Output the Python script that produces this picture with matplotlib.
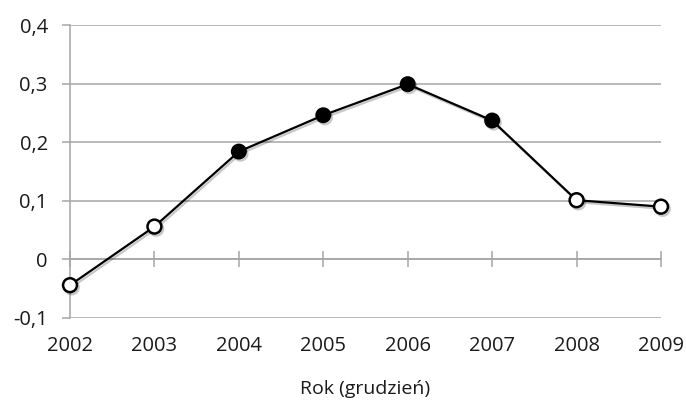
import matplotlib
matplotlib.use("Agg")
import matplotlib.pyplot as plt
import matplotlib.patheffects as pe
import numpy as np

plt.rcParams['font.family'] = ['Open Sans', 'DejaVu Sans']

years = [2002, 2003, 2004, 2005, 2006, 2007, 2008, 2009]
values = [-0.044, 0.056, 0.184, 0.246, 0.299, 0.237, 0.101, 0.090]
filled = [False, False, True, True, True, True, False, False]
yticks = [-0.1, 0, 0.1, 0.2, 0.3, 0.4]
ytick_labels = ['-0,1', '0', '0,1', '0,2', '0,3', '0,4']
xlabel = 'Rok (grudzień)'

grid_col = '#a6a6a6'
text_col = '#1a1a1a'

fig = plt.figure(figsize=(6.86, 4.08), dpi=100)
ax = fig.add_axes([70/686, 1 - 318/408, (661 - 70)/686, (318 - 25)/408])

ax.set_xlim(years[0], years[-1])
ax.set_ylim(-0.1, 0.4)

# horizontal grid
ax.set_yticks(yticks)
ax.set_yticklabels(ytick_labels)
ax.yaxis.grid(True, color=grid_col, linewidth=1.1)
ax.set_axisbelow(True)
ax.tick_params(axis='y', direction='out', length=6, width=1.1, color=grid_col,
               labelsize=14.5, labelcolor=text_col, pad=10)

for s in ['top', 'right']:
    ax.spines[s].set_visible(False)
ax.spines['left'].set_color(grid_col)
ax.spines['left'].set_linewidth(1.1)

# category axis crossing at zero, tick marks only
ax.spines['bottom'].set_position(('data', 0))
ax.spines['bottom'].set_color(grid_col)
ax.spines['bottom'].set_linewidth(1.1)
ax.set_xticks(years)
ax.tick_params(axis='x', direction='inout', length=11, width=1.1, color=grid_col,
               labelbottom=False)

# year labels below the plot area
sec = ax.secondary_xaxis(0)
sec.set_xticks(years)
sec.set_xticklabels([str(y) for y in years])
sec.tick_params(length=0, labelsize=14.5, labelcolor=text_col, pad=13)
sec.spines['bottom'].set_visible(False)
sec.set_xlabel(xlabel, fontsize=14, color=text_col, labelpad=17)

shadow = [pe.SimpleLineShadow(offset=(1.2, -1.5), shadow_color='k', alpha=0.22), pe.Normal()]
ax.plot(years, values, color='black', linewidth=1.6, zorder=3, path_effects=shadow)

yrs = np.array(years)
vals = np.array(values)
mask = np.array(filled)
ax.plot(yrs[mask], vals[mask], linestyle='none', marker='o', markersize=10,
        markerfacecolor='black', markeredgecolor='black', markeredgewidth=1.5,
        zorder=4, clip_on=False, path_effects=shadow)
ax.plot(yrs[~mask], vals[~mask], linestyle='none', marker='o', markersize=10,
        markerfacecolor='white', markeredgecolor='black', markeredgewidth=1.8,
        zorder=4, clip_on=False, path_effects=shadow)

fig.savefig('out.png', dpi=100)
